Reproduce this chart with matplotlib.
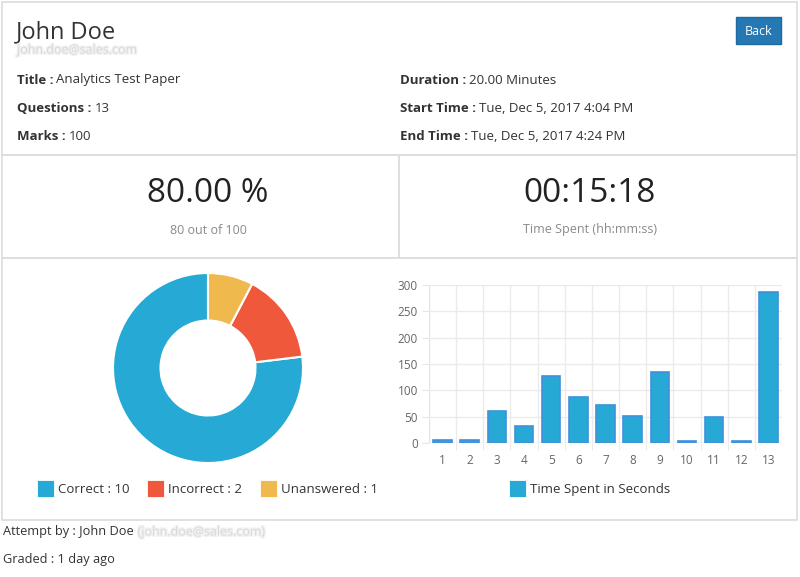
"""Quiz attempt report: header, score tiles, donut of answers and time per question."""

import matplotlib

matplotlib.use("Agg")

import matplotlib.patheffects as pe
import matplotlib.pyplot as plt
import numpy as np
from matplotlib.patches import Rectangle

plt.rcParams["font.family"] = ["Open Sans", "DejaVu Sans"]

# data
answer_labels = ["Correct", "Incorrect", "Unanswered"]
answer_counts = [10, 2, 1]
question_numbers = [str(i) for i in range(1, 14)]
seconds_spent = [5, 5, 60, 33, 128, 87, 72, 52, 135, 3, 49, 3, 286]
header_left = [("Title :", "Analytics Test Paper"), ("Questions :", "13"), ("Marks :", "100")]
header_right = [("Duration :", "20.00 Minutes"), ("Start Time :", "Tue, Dec 5, 2017 4:04 PM"),
                ("End Time :", "Tue, Dec 5, 2017 4:24 PM")]

BLUE, RED, YELLOW = "#26aad5", "#ef583b", "#f0b94e"
TEXT, GREY, BORDER = "#333333", "#8a8a8a", "#dedede"
W, H = 800, 577

fig = plt.figure(figsize=(8, 5.77), dpi=100)
bg = fig.add_axes([0, 0, 1, 1])
bg.set_xlim(0, W); bg.set_ylim(H, 0); bg.axis("off")
renderer = fig.canvas.get_renderer()


def label_value(x, y, label, value, size=9.5):
    t = bg.text(x, y, label, fontsize=size, fontweight="bold", color=TEXT, va="center")
    box = t.get_window_extent(renderer)
    x2 = bg.transData.inverted().transform((box.x1, 0))[0] + 3
    bg.text(x2, y, value, fontsize=size, color=TEXT, va="center")


def blurred(x, y, text, size=9.5):
    # soft grey halo stands in for the blurred e-mail address
    bg.text(x, y, text, fontsize=size, color="#d8d8d8", va="center",
            path_effects=[pe.withStroke(linewidth=2, foreground="#f1f1f1")])


# panel borders
for x0, y0, x1, y1 in [(2, 2, 797, 155), (2, 155, 399, 258), (399, 155, 797, 258), (2, 258, 797, 520)]:
    bg.add_patch(Rectangle((x0, y0), x1 - x0, y1 - y0, fill=False, edgecolor=BORDER, lw=1.3))

# header
bg.text(16, 32, "John Doe", fontsize=17, color=TEXT, va="center")
blurred(17, 50, "john.doe@sales.com", size=9)
for i, (lab, val) in enumerate(header_left):
    label_value(17, 80 + 28 * i, lab, val)
for i, (lab, val) in enumerate(header_right):
    label_value(400, 80 + 28 * i, lab, val)
bg.add_patch(Rectangle((736, 17), 45, 27, facecolor="#2479b5", edgecolor="#1f6aa0", lw=1))
bg.text(758.5, 31.5, "Back", fontsize=9, color="white", ha="center", va="center")

# score tiles
bg.text(208, 194, "80.00 %", fontsize=24, color="#222222", ha="center", va="center")
bg.text(208, 230, "80 out of 100", fontsize=9, color=GREY, ha="center", va="center")
bg.text(590, 194, "00:15:18", fontsize=24, color="#222222", ha="center", va="center")
bg.text(590, 230, "Time Spent (hh:mm:ss)", fontsize=9, color=GREY, ha="center", va="center")

# donut
pie_ax = fig.add_axes([113 / W, (H - 463) / H, 190 / W, 190 / H])
pie_ax.pie(answer_counts, colors=[BLUE, RED, YELLOW], startangle=90, counterclock=True, radius=1,
           wedgeprops=dict(width=0.5, edgecolor="white", linewidth=1.5))
pie_ax.set_xlim(-1, 1); pie_ax.set_ylim(-1, 1); pie_ax.set_aspect("auto")

legend_x = [37, 147, 260]
for x, lab, cnt, col in zip(legend_x, answer_labels, answer_counts, [BLUE, RED, YELLOW]):
    bg.add_patch(Rectangle((x, 480), 17, 17, facecolor=col, edgecolor="white", lw=0.6))
    bg.text(x + 21, 489.5, f"{lab} : {cnt}", fontsize=9.5, color=TEXT, va="center")

# bar chart
bar_ax = fig.add_axes([429 / W, (H - 443) / H, 353 / W, 158 / H])
pos = np.arange(len(seconds_spent))
bar_ax.bar(pos, seconds_spent, width=0.68, color=BLUE, edgecolor="#4390dd", linewidth=1.2, zorder=3)
bar_ax.set_xlim(-0.5, len(seconds_spent) - 0.5)
bar_ax.set_ylim(0, 300)
bar_ax.set_yticks(range(0, 301, 50))
bar_ax.set_xticks(pos, question_numbers)
bar_ax.set_xticks(pos[:-1] + 0.5, minor=True)
for s in bar_ax.spines.values():
    s.set_visible(False)
bar_ax.grid(axis="y", color="#ebebeb", lw=1, zorder=0)
bar_ax.grid(axis="x", which="minor", color="#ebebeb", lw=1, zorder=0)
bar_ax.axvline(-0.5, color="#e2e2e2", lw=1, zorder=1)
bar_ax.axvline(len(seconds_spent) - 0.5, color="#ebebeb", lw=1, zorder=1)
bar_ax.axhline(0, color="#e2e2e2", lw=1, zorder=1)
bar_ax.tick_params(axis="y", length=5, color="#e6e6e6", labelsize=8.5, labelcolor="#666666", pad=3)
bar_ax.tick_params(axis="x", which="major", length=0, labelsize=8.5, labelcolor="#666666", pad=8)
bar_ax.tick_params(axis="x", which="minor", length=5, color="#e6e6e6")

bg.add_patch(Rectangle((509, 480), 17, 17, facecolor=BLUE, edgecolor="white", lw=0.6))
bg.text(530, 489.5, "Time Spent in Seconds", fontsize=9.5, color=TEXT, va="center")

# footer
t = bg.text(3, 532, "Attempt by : John Doe", fontsize=9.2, color=TEXT, va="center")
x_end = bg.transData.inverted().transform((t.get_window_extent(renderer).x1, 0))[0]
blurred(x_end + 4, 532, "(john.doe@sales.com)", size=9)
bg.text(3, 560, "Graded : 1 day ago", fontsize=9.2, color=TEXT, va="center")

fig.savefig("out.png", dpi=100, facecolor="white")
